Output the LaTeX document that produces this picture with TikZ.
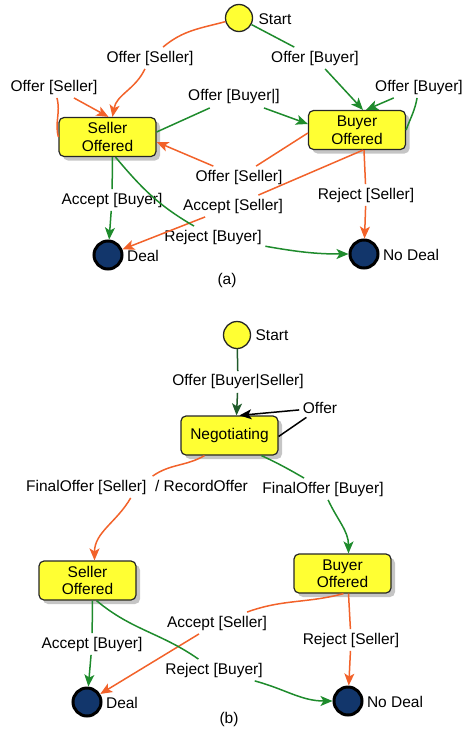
\documentclass[tikz,border=0pt]{standalone}
\usepackage{fontspec}
\setmainfont{Liberation Sans}
\usetikzlibrary{arrows.meta,shadows}
\definecolor{sellline}{HTML}{F2622A}
\definecolor{buyline}{HTML}{1E8B2C}
\definecolor{startline}{HTML}{1F5A2A}
\definecolor{stfill}{HTML}{FFFF33}
\definecolor{dealfill}{HTML}{12366B}

\begin{document}
\begin{tikzpicture}[x=1pt, y=1pt, font=\fontsize{15.5}{17.5}\selectfont,
  stbox/.style={draw=black!85, line width=1.2pt, fill=stfill, rounded corners=5pt, minimum width=97pt, minimum height=39pt, align=center, drop shadow={shadow xshift=4pt, shadow yshift=-4pt, fill=black!45}},
  initdot/.style={circle, draw=black!85, line width=1.3pt, fill=stfill, minimum size=27pt, inner sep=0pt},
  finaldot/.style={circle, draw=black, line width=3pt, fill=dealfill, minimum size=28pt, inner sep=0pt},
  lbl/.style={inner sep=3.5pt},
  trans/.style={line width=1.5pt},
  sell/.style={trans, sellline},
  buy/.style={trans, buyline},
  arr/.style={-{Stealth[length=12pt, width=10pt, inset=3pt]}}]
        \useasboundingbox (0,0) rectangle (462,-731);
        % (a)
        \node[initdot] (st) at (239,-18) {};
        \node (stt) at (275,-19) {Start};
        \node[stbox] (ss) at (107.5,-137) {Seller\\Offered};
        \node[stbox] (bo) at (357,-130) {Buyer\\Offered};
        \node[finaldot] (dl) at (108,-255) {};
        \node (dlt) at (143,-256) {Deal};
        \node[finaldot] (nd) at (364,-254) {};
        \node (ndt) at (411,-255) {No Deal};
        \node (capa) at (227,-280) {(a)};
        \node[lbl] (la1) at (150,-58) {Offer [Seller]};
        \node[lbl] (lb1) at (315,-58) {Offer [Buyer]};
        \node[lbl] (la2) at (54,-87) {Offer [Seller]};
        \node[lbl] (lb2) at (419,-87) {Offer [Buyer]};
        \node[lbl] (lb3) at (234,-97) {Offer [Buyer|]};
        \node[lbl] (ls3) at (239,-177) {Offer [Seller]};
        \node[lbl] (lab) at (112,-200) {Accept [Buyer]};
        \node[lbl] (las) at (233,-206) {Accept [Seller]};
        \node[lbl] (lrb) at (213,-237) {Reject [Buyer]};
        \node[lbl] (lrs) at (366,-195) {Reject [Seller]};
        \draw[sell] (st) to[out=195, in=40] (la1);
        \draw[sell, arr] (la1) to[out=-115, in=80] ([xshift=5pt]ss.north);
        \draw[buy] (st) -- (lb1);
        \draw[buy, arr] (lb1) -- ([xshift=6pt]bo.north);
        \draw[sell] (ss.west) to[out=105, in=-75] (la2);
        \draw[sell, arr] (la2) -- ([xshift=1pt]ss.north);
        \draw[buy] (bo.east) to[out=70, in=-100] (lb2);
        \draw[buy, arr] (lb2) -- ([xshift=9pt]bo.north);
        \draw[buy] ([yshift=5pt]ss.east) -- (lb3);
        \draw[buy, arr] (lb3) -- ([yshift=6pt]bo.west);
        \draw[sell] ([yshift=-3pt]bo.west) -- (ls3);
        \draw[sell, arr] (ls3) -- ([yshift=-5pt]ss.east);
        \draw[buy] ([xshift=5pt]ss.south) -- (lab);
        \draw[buy, arr] (lab) -- (dl);
        \draw[sell] ([xshift=6pt]bo.south) -- (las);
        \draw[sell, arr] (las) -- (dl);
        \draw[buy] ([xshift=8pt]ss.south) to[out=-50, in=150] (lrb);
        \draw[buy, arr] (lrb) to[out=-10, in=180] (nd);
        \draw[sell] ([xshift=7pt]bo.south) -- (lrs);
        \draw[sell, arr] (lrs) -- (nd);
        % (b)
        \node[initdot] (st2) at (237,-335) {};
        \node (st2t) at (272,-335) {Start};
        \node[stbox] (neg) at (229.5,-435.5) {Negotiating};
        \node[stbox] (sso) at (87.5,-580.5) {Seller\\Offered};
        \node[stbox] (bob) at (342.5,-573.5) {Buyer\\Offered};
        \node[finaldot] (dl2) at (87,-702) {};
        \node (dl2t) at (122,-703) {Deal};
        \node[finaldot] (nd2) at (348,-701) {};
        \node (nd2t) at (395,-702) {No Deal};
        \node (capb) at (229,-719) {(b)};
        \node[lbl] (lobs) at (238,-382) {Offer [Buyer|Seller]};
        \node[lbl] (lof) at (320,-408) {Offer};
        \node[lbl] (lfs) at (137,-487) {FinalOffer [Seller]~~/ RecordOffer};
        \node[lbl] (lfb) at (323,-489) {FinalOffer [Buyer]};
        \node[lbl] (lab2) at (92,-644) {Accept [Buyer]};
        \node[lbl] (las2) at (217,-623) {Accept [Seller]};
        \node[lbl] (lrb2) at (214,-670) {Reject [Buyer]};
        \node[lbl] (lrs2) at (351,-640) {Reject [Seller]};
        \draw[trans, startline] (st2) -- (lobs);
        \draw[trans, startline, arr] (lobs) -- ([xshift=7pt]neg.north);
        \draw[trans] ([yshift=-1pt]neg.east) -- (lof);
        \draw[trans, arr] (lof) -- ([xshift=10pt]neg.north);
        \draw[sell] ([xshift=-25pt]neg.south) to[out=-150, in=35] (lfs);
        \draw[sell, arr] (lfs) to[out=-120, in=90] ([xshift=7pt]sso.north);
        \draw[buy] ([xshift=32pt]neg.south) to[out=-25, in=150] (lfb);
        \draw[buy, arr] (lfb) to[out=-65, in=90] ([xshift=6pt]bob.north);
        \draw[buy] ([xshift=5pt]sso.south) -- (lab2);
        \draw[buy, arr] (lab2) -- (dl2);
        \draw[sell] ([xshift=1pt]bob.south) to[out=195, in=20] (las2);
        \draw[sell, arr] (las2) -- (dl2);
        \draw[buy] ([xshift=9pt]sso.south) to[out=-40, in=145] (lrb2);
        \draw[buy, arr] (lrb2) to[out=-15, in=180] (nd2);
        \draw[sell] ([xshift=6pt]bob.south) -- (lrs2);
        \draw[sell, arr] (lrs2) -- (nd2);
    \end{tikzpicture}
\end{document}
